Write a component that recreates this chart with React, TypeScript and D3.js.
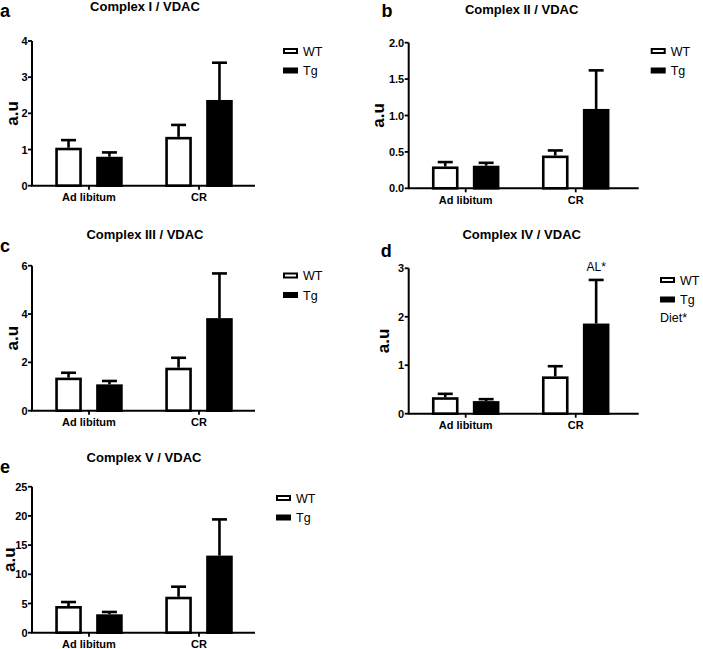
import React from 'react';
import * as d3 from 'd3';

// categories and series
const groups = ['Ad libitum', 'CR'];
const genotypes = ['WT', 'Tg'];
const titles = ['Complex I / VDAC', 'Complex II / VDAC', 'Complex III / VDAC', 'Complex IV / VDAC', 'Complex V / VDAC'];
const letters = ['a', 'b', 'c', 'd', 'e'];

const wtMean = [[1.05, 1.35], [0.30, 0.45], [1.37, 1.78], [0.34, 0.77], [4.57, 6.16]];
const wtSem = [[0.21, 0.33], [0.06, 0.07], [0.20, 0.41], [0.07, 0.21], [0.68, 1.72]];
const tgMean = [[0.80, 2.37], [0.31, 1.09], [1.09, 3.83], [0.26, 1.86], [3.15, 13.2]];
const tgSem = [[0.12, 1.03], [0.04, 0.53], [0.14, 1.85], [0.04, 0.90], [0.40, 6.2]];

const yTicks = [[0, 1, 2, 3, 4], [0, 0.5, 1.0, 1.5, 2.0], [0, 2, 4, 6], [0, 1, 2, 3], [0, 5, 10, 15, 20, 25]];
const tickFormats = ['d', '.1f', 'd', 'd', 'd'];

// layout of each panel on the page
const layout = [
  { x: 32, top: 41, bottom: 185.7, right: 255, titleX: 145, titleY: 11, letterX: 0, letterY: 16.7, auX: 12, legX: 283, legY: 48 },
  { x: 408.7, top: 42.7, bottom: 188.3, right: 638.7, titleX: 521.7, titleY: 14, letterX: 381.5, letterY: 16.7, auX: 378.3, legX: 650.7, legY: 48 },
  { x: 32, top: 265.7, bottom: 410.7, right: 255, titleX: 145, titleY: 239, letterX: 0, letterY: 251.7, auX: 12, legX: 283, legY: 272.5 },
  { x: 408.7, top: 268.3, bottom: 413.7, right: 638.7, titleX: 521.7, titleY: 239, letterX: 380.7, letterY: 256.7, auX: 383, legX: 660, legY: 277 },
  { x: 32, top: 486.7, bottom: 632.7, right: 255, titleX: 144, titleY: 462, letterX: 0, letterY: 473.3, auX: 9.5, legX: 276, legY: 495 },
];

const FONT = '"Liberation Sans", Arial, sans-serif';

const Panel = ({ i }: { i: number }) => {
  const L = layout[i];
  const ticks = yTicks[i];
  const y = d3.scaleLinear().domain([0, ticks[ticks.length - 1]]).range([L.bottom, L.top]);
  const x = d3.scaleBand().domain(groups).range([L.x, L.x + 224]).paddingInner(0).paddingOuter(0.018);
  const sub = d3.scaleBand().domain(genotypes).range([0, x.bandwidth()]).paddingInner(0.35).paddingOuter(0.52);
  const fmt = d3.format(tickFormats[i]);
  const capW = 15;

  const bars = groups.flatMap((g, gi) =>
    genotypes.map((gt) => ({
      g,
      gt,
      mean: gt === 'WT' ? wtMean[i][gi] : tgMean[i][gi],
      sem: gt === 'WT' ? wtSem[i][gi] : tgSem[i][gi],
    }))
  );

  return (
    <g>
      <text x={L.letterX} y={L.letterY} fontSize={18} fontWeight="bold" fontFamily={FONT}>{letters[i]}</text>
      <text x={L.titleX} y={L.titleY} fontSize={13} fontWeight="bold" fontFamily={FONT} textAnchor="middle">{titles[i]}</text>
      <text
        transform={`translate(${L.auX},${(L.top + L.bottom) / 2}) rotate(-90)`}
        fontSize={17}
        fontWeight="bold"
        fontFamily={FONT}
        textAnchor="middle"
        dominantBaseline="central"
      >a.u</text>

      {bars.map((b, k) => {
        const bx = (x(b.g) as number) + (sub(b.gt) as number);
        const bw = sub.bandwidth();
        const cx = bx + bw / 2;
        const top = y(b.mean + b.sem);
        return (
          <g key={k}>
            <line x1={cx} x2={cx} y1={y(b.mean)} y2={top} stroke="#000" strokeWidth={2.6} />
            <line x1={cx - capW / 2} x2={cx + capW / 2} y1={top} y2={top} stroke="#000" strokeWidth={2.6} />
            <rect
              x={bx + 1.3}
              y={y(b.mean) + 1.3}
              width={bw - 2.6}
              height={Math.max(0, L.bottom - y(b.mean) - 1.3)}
              fill={b.gt === 'WT' ? '#fff' : '#000'}
              stroke="#000"
              strokeWidth={2.6}
            />
          </g>
        );
      })}

      {/* y axis */}
      <line x1={L.x} x2={L.x} y1={L.bottom} y2={L.top} stroke="#000" strokeWidth={2} />
      {ticks.map((t) => (
        <g key={t}>
          <line x1={L.x - 4} x2={L.x} y1={y(t)} y2={y(t)} stroke="#000" strokeWidth={1.8} />
          <text x={L.x - 4.5} y={y(t)} fontSize={11} fontWeight="bold" fontFamily={FONT} textAnchor="end" dominantBaseline="central">{fmt(t)}</text>
        </g>
      ))}

      {/* x axis */}
      <line x1={L.x - 1} x2={L.right} y1={L.bottom} y2={L.bottom} stroke="#000" strokeWidth={2} />
      {groups.map((g) => {
        const cx = (x(g) as number) + x.bandwidth() / 2;
        return (
          <g key={g}>
            <line x1={cx} x2={cx} y1={L.bottom} y2={L.bottom + 4} stroke="#000" strokeWidth={1.8} />
            <text x={cx} y={L.bottom + 15.5} fontSize={11} fontWeight="bold" fontFamily={FONT} textAnchor="middle">{g}</text>
          </g>
        );
      })}

      {/* legend */}
      {genotypes.map((gt, k) => (
        <g key={gt}>
          <rect
            x={L.legX + 1}
            y={L.legY + k * 19.5 + 1}
            width={13}
            height={4}
            fill={gt === 'WT' ? '#fff' : '#000'}
            stroke="#000"
            strokeWidth={2}
          />
          <text x={L.legX + 20} y={L.legY + k * 19.5 + 7.5} fontSize={12.5} fontFamily={FONT}>{gt}</text>
        </g>
      ))}

      {i === 3 && (
        <>
          <text
            x={(x('CR') as number) + (sub('Tg') as number) + sub.bandwidth() / 2}
            y={y(tgMean[i][1] + tgSem[i][1]) - 9}
            fontSize={12}
            fontFamily={FONT}
            textAnchor="middle"
          >AL*</text>
          <text x={L.legX} y={L.legY + 44.5} fontSize={12.5} fontFamily={FONT}>Diet*</text>
        </>
      )}
    </g>
  );
};

export default function App() {
  return (
    <svg width={703} height={649} style={{ position: 'absolute', left: 0, top: 0, background: '#fff' }}>
      {titles.map((_, i) => (
        <Panel key={i} i={i} />
      ))}
    </svg>
  );
}
